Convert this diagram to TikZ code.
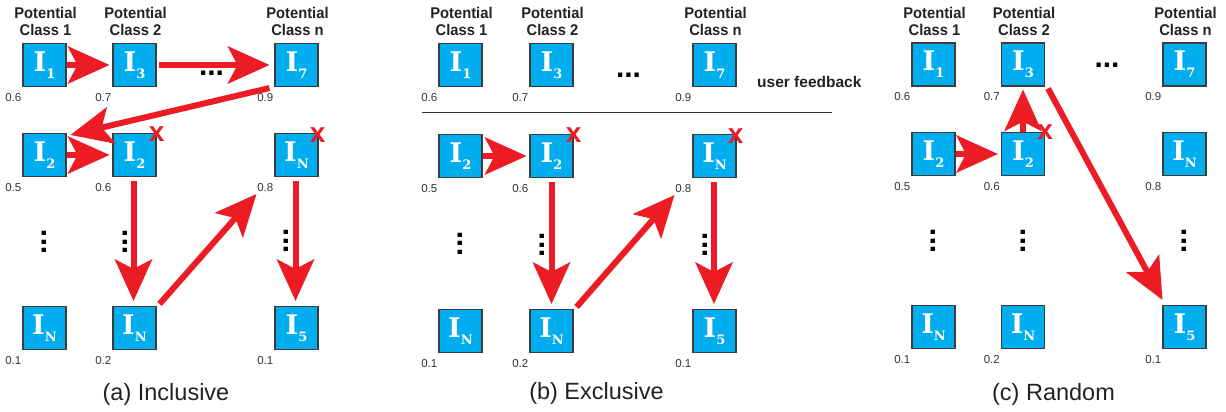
\documentclass[tikz,border=0pt]{standalone}
\usepackage{fontspec}
\setmainfont{Liberation Sans}
\newfontfamily\serifbox{DejaVu Serif}
\newfontfamily\hdrfont{Liberation Sans}[FakeStretch=0.95]
\usetikzlibrary{arrows.meta,calc}
\definecolor{boxcyan}{HTML}{00AEEF}
\definecolor{arrred}{HTML}{ED1C24}
\definecolor{edgegray}{HTML}{3C3C3C}
\definecolor{txtgray}{HTML}{333333}
\definecolor{txtdark}{HTML}{222222}

\newcommand\Isub[1]{{\serifbox\bfseries\fontsize{27}{27}\selectfont I\raisebox{-6.7pt}{\fontsize{13}{13}\selectfont #1}}}

\tikzset{
  ibox/.style={draw=edgegray, line width=1.1pt, fill=boxcyan, text=white,
    minimum width=43pt, minimum height=43pt, inner sep=0pt},
  val/.style={anchor=north east, inner sep=0pt, text=txtgray,
    font=\fontsize{11.5}{13}\selectfont},
  hdr/.style={anchor=north, inner sep=0pt, align=center, text=txtdark,
    font=\hdrfont\bfseries\fontsize{15.5}{16.5}\selectfont},
  hdots/.style={inner sep=0pt, text=black, font=\bfseries\fontsize{30}{30}\selectfont},
  vdots/.style={hdots, rotate=90},
  xmark/.style={inner sep=0pt, text=arrred, font=\bfseries\fontsize{28}{28}\selectfont},
  farrow/.style={draw=arrred, line width=6pt,
    -{Stealth[length=42pt, width=38pt, inset=10pt, line width=0pt]}},
  caption/.style={anchor=base, inner sep=0pt, text=txtdark,
    font=\fontsize{23.5}{26}\selectfont},
}

% name, x, y, subscript, value
\newcommand\ibx[5]{%
  \node[ibox] (#1) at (#2,#3) {\Isub{#4}};
  \node[val] (#1v) at ($(#1.south west)+(-1,6)$) {#5};}

% prefix, x1, x2, xn, y1, y2, y3
\newcommand\mkpanel[7]{%
  \node[hdr] (#1h1) at (#2+1,7.5) {Potential\\Class 1};
  \node[hdr] (#1h2) at (#3+1,7.5) {Potential\\Class 2};
  \node[hdr] (#1hn) at (#4+1,7.5) {Potential\\Class n};
  \ibx{#111}{#2}{#5}{1}{0.6}
  \ibx{#112}{#3}{#5}{3}{0.7}
  \ibx{#11n}{#4}{#5}{7}{0.9}
  \ibx{#121}{#2}{#6}{2}{0.5}
  \ibx{#122}{#3}{#6}{2}{0.6}
  \ibx{#12n}{#4}{#6}{N}{0.8}
  \ibx{#131}{#2}{#7}{N}{0.1}
  \ibx{#132}{#3}{#7}{N}{0.2}
  \ibx{#13n}{#4}{#7}{5}{0.1}}

\begin{document}
\begin{tikzpicture}[x=1pt, y=-1pt]
\useasboundingbox (0,0) rectangle (1226,412);

\mkpanel{a}{44.5}{134.5}{296.5}{65}{155}{328}
\mkpanel{b}{460.5}{551.5}{714.5}{65}{156}{331}
\mkpanel{c}{933.5}{1023}{1184.5}{64.5}{154}{327}

% panel (a) arrows
\draw[farrow] (a11.east) -- ($(a12.west)+(-3,0)$);
\draw[farrow] ($(a12.east)+(2,0)$) -- ($(a1n.west)+(-5,0)$);
\draw[farrow] ($(a1n.south west)+(-5,1)$) -- ($(a21.north east)+(4,2)$);
\draw[farrow] (a21.east) -- ($(a22.west)+(-3,0)$);
\draw[farrow] ($(a22.south)+(-1,4)$) -- ($(a32.north)+(-1,-5)$);
\draw[farrow] ($(a32.north east)+(3,-2)$) -- ($(a2n.south west)+(-18,17)$);
\draw[farrow] ($(a2n.south)+(-1,4)$) -- ($(a3n.north)+(-1,-5)$);

% panel (b) arrows
\draw[farrow] (b21.east) -- ($(b22.west)+(-3,0)$);
\draw[farrow] ($(b22.south)+(0,4)$) -- ($(b32.north)+(0,-5)$);
\draw[farrow] ($(b32.north east)+(3,-2)$) -- ($(b2n.south west)+(-18,17)$);
\draw[farrow] ($(b2n.south)+(-0.5,4)$) -- ($(b3n.north)+(-0.5,-5)$);

% panel (c) arrows
\draw[farrow] (c21.east) -- ($(c22.west)+(-3,0)$);
\draw[farrow] (c22.north) -- ($(c12.south)+(0,3)$);
\draw[farrow] ($(c12.south east)+(3,2)$) -- ($(c3n.north west)+(0,-5)$);

% crosses
\node[xmark] (xa22) at ($(a22.north east)+(0,1.5)$) {x};
\node[xmark] (xa2n) at ($(a2n.north east)+(-1,2)$) {x};
\node[xmark] (xb22) at ($(b22.north east)+(0,1.5)$) {x};
\node[xmark] (xb2n) at ($(b2n.north east)+(-1,2)$) {x};
\node[xmark] (xc22) at ($(c22.north east)+(0,0)$) {x};

% horizontal dots
\node[hdots] (da) at (211.5,73) {...};
\node[hdots] (db) at (628.5,75) {...};
\node[hdots] (dc) at (1107,65) {...};

% vertical dots
\node[vdots] (va1) at (44.3,242) {...};
\node[vdots] (va2) at (125,242) {...};
\node[vdots] (va3) at (286.7,241) {...};
\node[vdots] (vb1) at (460,243.5) {...};
\node[vdots] (vb2) at (542,245) {...};
\node[vdots] (vb3) at (705,245) {...};
\node[vdots] (vc1) at (933.3,241) {...};
\node[vdots] (vc2) at (1023,241) {...};
\node[vdots] (vc3) at (1184.5,241) {...};

% user feedback separator
\node[anchor=base west, inner sep=0pt, text=txtdark,
  font=\bfseries\fontsize{15.5}{16}\selectfont] (uf) at (757,87) {user feedback};
\draw[draw=txtgray, line width=1pt] (422,112) -- (832,112);

% captions
\node[caption] (capa) at (166,400) {(a) Inclusive};
\node[caption] (capb) at (596.5,399) {(b) Exclusive};
\node[caption] (capc) at (1053.5,400) {(c) Random};
\end{tikzpicture}
\end{document}
